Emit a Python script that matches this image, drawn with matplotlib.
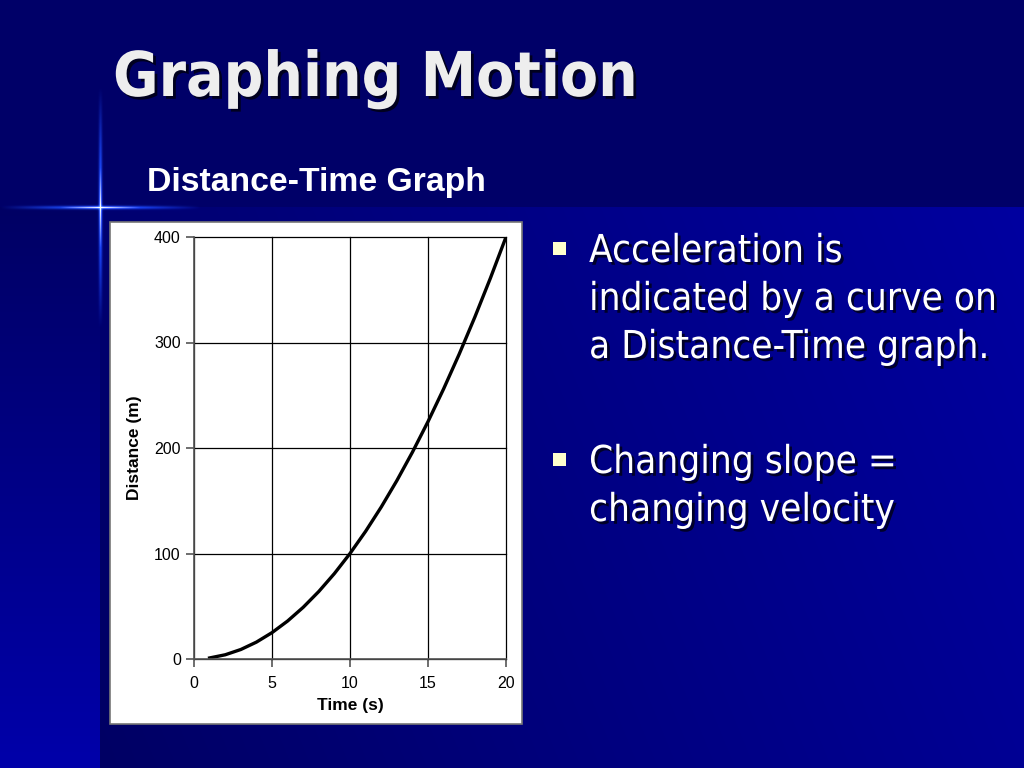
import numpy as np
import matplotlib.pyplot as plt
import matplotlib.patheffects as pe

# data
time_s = [1, 2, 3, 4, 5, 6, 7, 8, 9, 10, 11, 12, 13, 14, 15, 16, 17, 18, 19, 20]
distance_m = [1, 4, 9, 16, 25, 36, 49, 64, 81, 100,
              121, 144, 169, 196, 225, 256, 289, 324, 361, 400]
x_ticks = [0, 5, 10, 15, 20]
y_ticks = [0, 100, 200, 300, 400]

title = "Graphing Motion"
subtitle = "Distance-Time Graph"
bullet_1 = ["Acceleration is", "indicated by a curve on", "a Distance-Time graph."]
bullet_2 = ["Changing slope =", "changing velocity"]

W, H = 1024, 768
fig = plt.figure(figsize=(W / 100, H / 100), dpi=100)

# ---- slide background ----
bg = np.zeros((H, W, 3))
yy, xx = np.mgrid[0:H, 0:W]
# main area: gradient, brighter to the right (and a bit to the top)
t = np.clip((xx - 100) / 924 * 0.8 + (1 - (yy - 207) / 561) * 0.2, 0, 1)
bg[..., 2] = (100 + 60 * t) / 255
# left strip: dark at top, bright at bottom
left = xx < 100
bg[left, 2] = (100 + 70 * np.clip((yy[left] - 207) / 561, 0, 1)) / 255
# top band
top = yy < 207
bg[top, 2] = 104 / 255

# glow lines crossing at (100, 207)
vx = np.exp(-((xx - 100) ** 2) / 3.0) * np.clip(1 - np.abs(yy - 207) / 120, 0, 1)
hy = np.exp(-((yy - 207) ** 2) / 3.0) * np.clip(1 - np.abs(xx - 100) / 100, 0, 1)
glow = np.clip(vx + hy, 0, 1)
core = np.clip(np.exp(-((xx - 100) ** 2) / 0.6) * np.clip(1 - np.abs(yy - 207) / 40, 0, 1)
               + np.exp(-((yy - 207) ** 2) / 0.6) * np.clip(1 - np.abs(xx - 100) / 40, 0, 1), 0, 1)
bg[..., 0] = np.clip(bg[..., 0] + 0.15 * glow + 0.85 * core, 0, 1)
bg[..., 1] = np.clip(bg[..., 1] + 0.4 * glow + 0.6 * core, 0, 1)
bg[..., 2] = np.clip(bg[..., 2] + 0.8 * glow + 0.2 * core, 0, 1)

ax_bg = fig.add_axes([0, 0, 1, 1])
ax_bg.imshow(bg, extent=[0, W, H, 0], aspect="auto", interpolation="bilinear")
ax_bg.set_xlim(0, W)
ax_bg.set_ylim(H, 0)
ax_bg.axis("off")

# white chart box
ax_bg.add_patch(plt.Rectangle((110, 222), 412, 502, facecolor="white",
                              edgecolor="#777777", lw=1.2))

shadow = [pe.withSimplePatchShadow(offset=(2, -2), shadow_rgbFace="black", alpha=0.7)]

ax_bg.text(113, 96, title, fontsize=44.5, fontweight="bold", color="#eeeeee",
           family="DejaVu Sans", fontstretch="condensed", path_effects=shadow)
ax_bg.text(147, 191, subtitle, fontsize=24.3, fontweight="bold", color="white",
           family="Liberation Sans")

# bullets
for y0, lines in [(262, bullet_1), (473, bullet_2)]:
    ax_bg.add_patch(plt.Rectangle((553, y0 - 20), 13, 13, facecolor="#ffffcc",
                                  edgecolor="none"))
    for i, line in enumerate(lines):
        ax_bg.text(589, y0 + 48 * i, line, fontsize=27.7, color="white",
                   va="baseline", family="DejaVu Sans", fontstretch="condensed",
                   path_effects=shadow)

# ---- the chart ----
ax = fig.add_axes([194 / W, 1 - 659 / H, 312 / W, 422 / H])
ax.plot(time_s, distance_m, color="black", lw=2.4)
ax.set_xlim(0, 20)
ax.set_ylim(0, 400)
ax.set_xticks(x_ticks)
ax.set_yticks(y_ticks)
ax.grid(True, color="black", lw=0.9)
ax.set_axisbelow(True)
for gl in ax.get_xgridlines() + ax.get_ygridlines():
    gl.set_clip_on(False)
for s in ["top", "right"]:
    ax.spines[s].set_visible(False)
for s in ["left", "bottom"]:
    ax.spines[s].set_color("#555555")
    ax.spines[s].set_linewidth(1.2)
ax.tick_params(colors="#555555", length=6, width=1.2, labelcolor="black",
               labelsize=11.5)
ax.tick_params(axis="x", pad=6)
for lab in ax.get_xticklabels() + ax.get_yticklabels():
    lab.set_family("Liberation Sans")
ax.set_xlabel("Time (s)", fontsize=12.5, fontweight="bold", family="Liberation Sans",
              labelpad=5)
ax.set_ylabel("Distance (m)", fontsize=12.5, fontweight="bold", family="Liberation Sans",
              labelpad=9)
ax.set_facecolor("white")

fig.savefig("out.png", dpi=100)
